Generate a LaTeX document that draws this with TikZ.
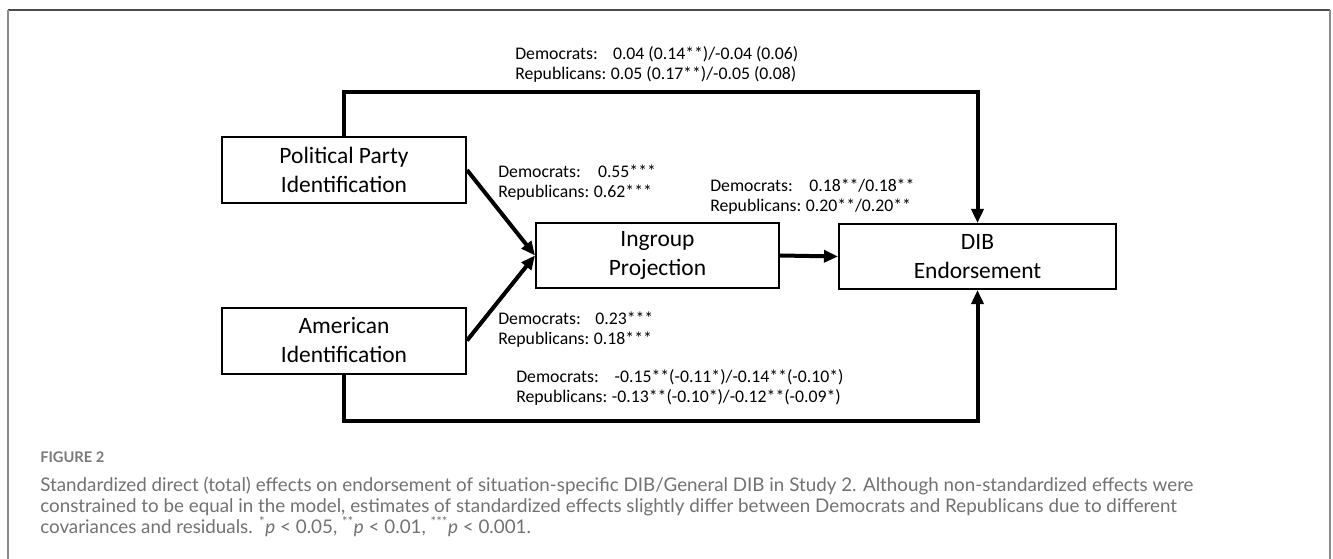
\documentclass[tikz,border=0pt]{standalone}
\usepackage{fontspec}
\setmainfont{Carlito}
\newfontfamily\capfont{Lato}
\usetikzlibrary{arrows.meta}
\definecolor{capgray}{HTML}{727272}
\definecolor{figgray}{HTML}{7A7A7A}
\definecolor{frametop}{HTML}{4A4A4A}
\definecolor{frameside}{HTML}{8A8A8A}
\begin{document}
\begin{tikzpicture}[x=0.75pt,y=-0.75pt,
  box/.style={draw, line width=1.5pt, minimum width=183pt, minimum height=49.5pt,
    inner sep=0pt, align=center, font=\fontsize{17.6}{21.75}\selectfont},
  arr/.style={line width=3pt, -{Triangle[length=10.5pt,width=9pt]}},
  lab/.style={anchor=base west, inner sep=0pt, font=\fontsize{13.3}{15}\selectfont},
  captext/.style={anchor=base west, inner sep=0pt, text=capgray, font=\capfont\fontsize{14.1}{15}\selectfont}]
\useasboundingbox (0,0) rectangle (1333,559);
\fill[white] (0,0) rectangle (1333,559);
% frame
\draw[frametop, line width=1.2pt] (8,10) -- (1330,10);
\draw[frameside, line width=1.5pt] (8,10) -- (8,559);
\draw[frameside, line width=1.5pt] (1330,10) -- (1330,559);
% boxes
\node[box] (ppi) at (344,170) {Political Party\\Identification};
\node[box] (ami) at (344,340.5) {American\\Identification};
\node[box, minimum width=182.25pt, minimum height=48.75pt] (ing) at (657.5,255.5) {Ingroup\\Projection};
\node[box, minimum width=207.75pt, minimum height=48.75pt] (dib) at (977.5,256.5) {DIB\\Endorsement};
% connectors
\coordinate (topy) at (0,92);
\coordinate (boty) at (0,421);
\draw[arr] (ppi.east) -- (ing.west);
\draw[arr] (ami.east) -- (ing.west);
\draw[arr] (ing.east) -- (dib.west);
\draw[arr] (ppi.north) |- (topy -| dib.north) -- (dib.north);
\draw[arr] (ami.south) |- (boty -| dib.south) -- (dib.south);
% labels
\node[lab] (ltop) at (515,60) {\begin{tabular}[t]{@{}l@{\hspace{3.5pt}}l@{}}Democrats: & \hspace{1.5pt}0.04 (0.14**)/-0.04 (0.06)\\ Republicans: & 0.05 (0.17**)/-0.05 (0.08)\end{tabular}};
\node[lab] (lppi) at (498,178) {\begin{tabular}[t]{@{}l@{\hspace{3.5pt}}l@{}}Democrats: & \hspace{3pt}0.55***\\ Republicans: & 0.62***\end{tabular}};
\node[lab] (ling) at (710,192) {\begin{tabular}[t]{@{}l@{\hspace{3.5pt}}l@{}}Democrats: & \hspace{2.5pt}0.18**/0.18**\\ Republicans: & 0.20**/0.20**\end{tabular}};
\node[lab] (lami) at (498,325) {\begin{tabular}[t]{@{}l@{\hspace{3.5pt}}l@{}}Democrats: & \hspace{1pt}0.23***\\ Republicans: & 0.18***\end{tabular}};
\node[lab] (lbot) at (516,382) {\begin{tabular}[t]{@{}l@{\hspace{3.5pt}}l@{}}Democrats: & \hspace{2pt}-0.15**(-0.11*)/-0.14**(-0.10*)\\ Republicans: & -0.13**(-0.10*)/-0.12**(-0.09*)\end{tabular}};
% caption
\node[anchor=base west, inner sep=0pt, text=figgray, font=\capfont\bfseries\fontsize{11}{12}\selectfont] (fig) at (40,462) {FIGURE 2};
\node[captext] (c1) at (40,491) {Standardized direct (total) effects on endorsement of situation-specific DIB/General DIB in Study 2. Although non-standardized effects were};
\node[captext] (c2) at (40,512) {constrained to be equal in the model, estimates of standardized effects slightly differ between Democrats and Republicans due to different};
\node[captext] (c3) at (40,533) {covariances and residuals. \textsuperscript{*}\textit{p} < 0.05, \textsuperscript{**}\textit{p} < 0.01, \textsuperscript{***}\textit{p} < 0.001.};
\end{tikzpicture}
\end{document}
